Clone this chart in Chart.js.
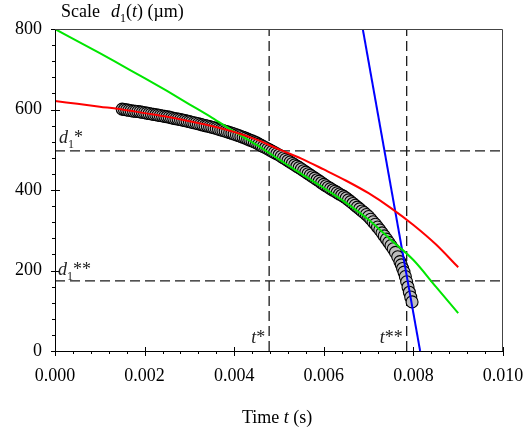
<!DOCTYPE html>
<html>
<head>
<meta charset="utf-8">
<script src="https://cdn.jsdelivr.net/npm/chart.js@4.4.1/dist/chart.umd.min.js"></script>
<style>
html, body { margin: 0; padding: 0; background: #fff; }
#myChart { display: block; }
</style>
</head>
<body>
<canvas id="myChart" width="530" height="433"></canvas>
<script>
// measured drop diameter (circles)
const timeS = [
  0.00150, 0.00155, 0.00160, 0.00165, 0.00170, 0.00175, 0.00180, 0.00185, 0.00190, 0.00195,
  0.00200, 0.00205, 0.00210, 0.00215, 0.00220, 0.00225, 0.00230, 0.00235, 0.00240, 0.00245,
  0.00250, 0.00255, 0.00260, 0.00265, 0.00270, 0.00275, 0.00280, 0.00285, 0.00290, 0.00295,
  0.00300, 0.00305, 0.00310, 0.00315, 0.00320, 0.00325, 0.00330, 0.00335, 0.00340, 0.00345,
  0.00350, 0.00355, 0.00360, 0.00365, 0.00370, 0.00375, 0.00380, 0.00385, 0.00390, 0.00395,
  0.00400, 0.00405, 0.00410, 0.00415, 0.00420, 0.00425, 0.00430, 0.00435, 0.00440, 0.00445,
  0.00450, 0.00455, 0.00460, 0.00465, 0.00470, 0.00475, 0.00480, 0.00485, 0.00490, 0.00495,
  0.00500, 0.00505, 0.00510, 0.00515, 0.00520, 0.00525, 0.00530, 0.00535, 0.00540, 0.00545,
  0.00550, 0.00555, 0.00560, 0.00565, 0.00570, 0.00575, 0.00580, 0.00585, 0.00590, 0.00595,
  0.00600, 0.00605, 0.00610, 0.00615, 0.00620, 0.00625, 0.00630, 0.00635, 0.00640, 0.00645,
  0.00650, 0.00655, 0.00660, 0.00665, 0.00670, 0.00675, 0.00680, 0.00685, 0.00690, 0.00695,
  0.00700, 0.00705, 0.00710, 0.00715, 0.00720, 0.00725, 0.00730, 0.00735, 0.00740, 0.00745,
  0.00750, 0.00755, 0.00760, 0.00765, 0.00770, 0.00773, 0.00776, 0.00779, 0.00782, 0.00785,
  0.00788, 0.00791, 0.00794, 0.00797
];
const diameterUm = [
  601, 600, 599, 598, 597, 596, 595.5, 595, 594, 593,
  592, 591, 590, 589, 588, 587, 586, 585, 584, 583,
  582, 581, 579.5, 578, 577, 576, 575, 573.5, 572.5, 571,
  570, 568.5, 567, 566, 564.5, 563, 561.5, 560, 559, 557.5,
  556, 554.5, 553, 551, 549.5, 548, 546, 544.5, 542.5, 541,
  539, 537, 535, 533, 531, 529, 526.5, 524, 522, 519.5,
  517, 514, 511, 508, 505, 502, 499, 496, 493, 490,
  487, 483.5, 480, 476.5, 473, 469.5, 466, 462.5, 459, 455.5,
  452, 448, 444.5, 440.5, 437, 433, 429.5, 425.5, 422, 418,
  414, 410.5, 407, 403.5, 400, 397, 393.5, 390, 387, 383.5,
  380, 375.5, 371, 366.5, 362, 357.5, 353, 348, 344, 339,
  334, 327.5, 321, 315, 308, 301, 293.5, 286, 278, 270,
  262, 254, 245, 234, 222, 214, 205, 196, 185, 172,
  159, 146, 134, 122
];

// fitted curves
const redT = [0, 0.0005, 0.001, 0.0015, 0.002, 0.0025, 0.003, 0.0035, 0.004, 0.0045, 0.005, 0.0055, 0.006, 0.0065, 0.007, 0.0075, 0.008, 0.0085, 0.009];
const redD = [621, 614, 607, 600, 591, 582, 571, 559, 544, 525, 501, 478, 451, 423, 392, 355, 313, 265, 208];

const greenT = [0, 0.0005, 0.001, 0.0015, 0.002, 0.0025, 0.003, 0.0035, 0.004, 0.0045, 0.005, 0.0055, 0.006, 0.0065, 0.007, 0.0075, 0.008, 0.0085, 0.009];
const greenD = [800, 770, 740, 709, 678, 646, 613, 580, 545, 512, 476, 440, 405, 368, 326, 276, 226, 160, 94];

const blueT = [0.00687, 0.00815];
const blueD = [800, 0];

// characteristic points
const tStar = 0.00478, tStar2 = 0.00785;
const d1Star = 497, d1Star2 = 174;

const xTicks = [0, 0.002, 0.004, 0.006, 0.008, 0.010];
const yTicks = [0, 200, 400, 600, 800];

const FONT = '"Liberation Serif", "Times New Roman", serif';
const pts = (xs, ys) => xs.map((x, i) => ({ x: x, y: ys[i] }));

function rich(ctx, x, y, parts, size) {
    let cx = x;
    for (const [txt, st] of parts) {
        const fs = st === 'sub' ? Math.round(size * 0.68) : size;
        ctx.font = (st === 'i' ? 'italic ' : '') + fs + 'px ' + FONT;
        ctx.fillText(txt, cx, y + (st === 'sub' ? size * 0.28 : 0));
        cx += ctx.measureText(txt).width;
    }
    return cx - x;
}

const decor = {
    id: 'decor',
    afterDraw(chart) {
        const { ctx, chartArea: a, scales: { x, y } } = chart;
        ctx.save();
        ctx.strokeStyle = '#000';
        ctx.lineWidth = 1;
        ctx.beginPath();
        // left and bottom axes
        ctx.moveTo(a.left + 0.5, a.top);
        ctx.lineTo(a.left + 0.5, a.bottom + 0.5);
        ctx.lineTo(a.right, a.bottom + 0.5);
        // x ticks
        for (let i = 0; i < xTicks.length; i++) {
            const px = Math.round(x.getPixelForValue(xTicks[i])) + 0.5;
            ctx.moveTo(px, a.bottom - 4);
            ctx.lineTo(px, a.bottom + 5);
            if (i < xTicks.length - 1) {
                const step = (xTicks[i + 1] - xTicks[i]) / 5;
                for (let k = 1; k < 5; k++) {
                    const mx = Math.round(x.getPixelForValue(xTicks[i] + k * step)) + 0.5;
                    ctx.moveTo(mx, a.bottom);
                    ctx.lineTo(mx, a.bottom + 3);
                }
            }
        }
        // y ticks
        for (let i = 0; i < yTicks.length; i++) {
            const py = Math.round(y.getPixelForValue(yTicks[i])) + 0.5;
            ctx.moveTo(a.left - 4, py);
            ctx.lineTo(a.left + 5, py);
            if (i < yTicks.length - 1) {
                const step = (yTicks[i + 1] - yTicks[i]) / 5;
                for (let k = 1; k < 5; k++) {
                    const my = Math.round(y.getPixelForValue(yTicks[i] + k * step)) + 0.5;
                    ctx.moveTo(a.left - 3, my);
                    ctx.lineTo(a.left, my);
                }
            }
        }
        ctx.stroke();
        // top and right frame
        ctx.strokeStyle = '#444';
        ctx.beginPath();
        ctx.moveTo(a.left, a.top + 0.5);
        ctx.lineTo(a.right - 0.5, a.top + 0.5);
        ctx.lineTo(a.right - 0.5, a.bottom);
        ctx.stroke();

        ctx.fillStyle = '#000';
        ctx.textBaseline = 'alphabetic';
        ctx.textAlign = 'left';
        // axis titles
        rich(ctx, 61, 17, [['Scale', 'n']], 18);
        rich(ctx, 111, 17, [['d', 'i'], ['1', 'sub'], ['(', 'n'], ['t', 'i'], [')', 'n'], [' (\u00b5m)', 'n']], 18);
        rich(ctx, 242, 423, [['Time ', 'n'], ['t', 'i'], [' (s)', 'n']], 18);

        // characteristic labels
        ctx.fillStyle = '#222';
        const yS = y.getPixelForValue(d1Star);
        const yS2 = y.getPixelForValue(d1Star2);
        rich(ctx, a.left + 4, yS - 8, [['d', 'i'], ['1', 'sub'], ['*', 'n']], 18);
        rich(ctx, a.left + 3, yS2 - 6, [['d', 'i'], ['1', 'sub'], ['**', 'n']], 18);
        const xS = x.getPixelForValue(tStar);
        const xS2 = x.getPixelForValue(tStar2);
        let w = rich(ctx, 0, -100, [['t', 'i'], ['*', 'n']], 18);
        rich(ctx, xS - 4 - w, a.bottom - 8, [['t', 'i'], ['*', 'n']], 18);
        w = rich(ctx, 0, -100, [['t', 'i'], ['**', 'n']], 18);
        rich(ctx, xS2 - 4 - w, a.bottom - 8, [['t', 'i'], ['**', 'n']], 18);
        ctx.restore();
    }
};

const dashStyle = {
    showLine: true, pointRadius: 0, borderColor: '#1a1a1a', borderWidth: 1.3,
    borderDash: [10, 5], fill: false, order: 3
};

new Chart(document.getElementById('myChart'), {
    type: 'scatter',
    data: {
        datasets: [
            {
                data: pts(timeS, diameterUm),
                pointRadius: 6,
                pointBackgroundColor: '#bdbdbd',
                pointBorderColor: '#000',
                pointBorderWidth: 1.1,
                showLine: false,
                order: 2
            },
            {
                data: pts(redT, redD), showLine: true, pointRadius: 0,
                borderColor: '#ff0000', borderWidth: 2, cubicInterpolationMode: 'monotone', order: 1
            },
            {
                data: pts(greenT, greenD), showLine: true, pointRadius: 0,
                borderColor: '#00e600', borderWidth: 2, cubicInterpolationMode: 'monotone', order: 1
            },
            {
                data: pts(blueT, blueD), showLine: true, pointRadius: 0,
                borderColor: '#0000ff', borderWidth: 2, order: 1
            },
            Object.assign({ data: pts([0, 0.010], [d1Star, d1Star]) }, dashStyle),
            Object.assign({ data: pts([0, 0.010], [d1Star2, d1Star2]) }, dashStyle),
            Object.assign({ data: pts([tStar, tStar], [0, 800]) }, dashStyle),
            Object.assign({ data: pts([tStar2, tStar2], [0, 800]) }, dashStyle)
        ]
    },
    options: {
        responsive: false,
        animation: false,
        devicePixelRatio: 1,
        events: [],
        layout: { padding: { top: 29, right: 27, bottom: 0, left: 0 } },
        plugins: {
            legend: { display: false },
            tooltip: { enabled: false }
        },
        scales: {
            x: {
                type: 'linear', min: 0, max: 0.010,
                grid: { display: false, drawTicks: false },
                border: { display: false },
                afterBuildTicks: s => { s.ticks = xTicks.map(v => ({ value: v })); },
                afterFit: s => { s.height = 82; s.paddingLeft = 0; s.paddingRight = 0; },
                ticks: {
                    autoSkip: false, maxRotation: 0, padding: 14, color: '#000',
                    font: { family: FONT, size: 18 },
                    callback: v => v.toFixed(3)
                }
            },
            y: {
                type: 'linear', min: 0, max: 800,
                grid: { display: false, drawTicks: false },
                border: { display: false },
                afterBuildTicks: s => { s.ticks = yTicks.map(v => ({ value: v })); },
                afterFit: s => { s.width = 55; s.paddingTop = 0; s.paddingBottom = 0; },
                ticks: {
                    padding: 13, color: '#000',
                    font: { family: FONT, size: 18 }
                }
            }
        }
    },
    plugins: [decor]
});
</script>
</body>
</html>
